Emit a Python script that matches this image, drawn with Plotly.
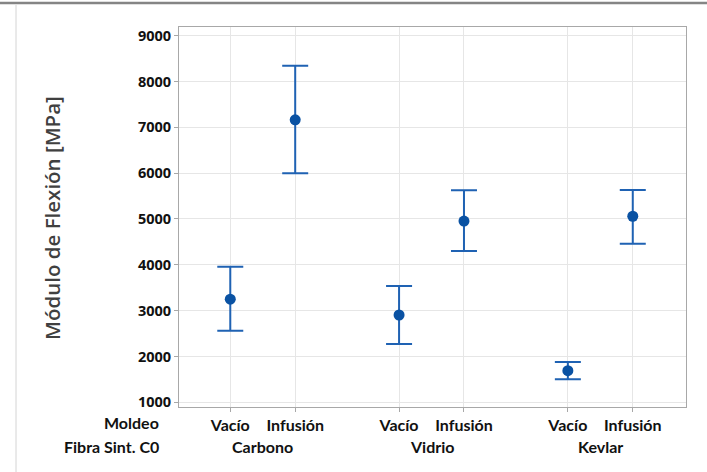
import plotly.graph_objects as go

# Flexural modulus by fibre type and moulding process
fibras = ["Carbono", "Vidrio", "Kevlar"]
moldeos = ["Vacío", "Infusión"]
media = [3250, 7165, 2905, 4955, 1690, 5060]
limite_sup = [3960, 8345, 3540, 5630, 1880, 5633]
limite_inf = [2563, 5997, 2273, 4302, 1503, 4462]
y_ticks = [1000, 2000, 3000, 4000, 5000, 6000, 7000, 8000, 9000]

GROUP_STEP = 2.6
xpos = [g * GROUP_STEP + j + 1 for g in range(len(fibras)) for j in range(len(moldeos))]
xlabels = [m for _ in fibras for m in moldeos]
err_up = [u - m for u, m in zip(limite_sup, media)]
err_dn = [m - d for m, d in zip(media, limite_inf)]

fig = go.Figure()
fig.add_trace(go.Scatter(
    x=xpos, y=media, mode="markers",
    marker=dict(color="#0a52a3", size=11),
    error_y=dict(type="data", symmetric=False, array=err_up, arrayminus=err_dn,
                 color="#1f62b3", thickness=2, width=13),
    showlegend=False,
))

W, H = 707, 472
L, R, T, B = 179, 21, 27, 65
pw, ph = W - L - R, H - T - B

def px_x(p):
    return (p - L) / pw

def px_y(p):
    return (H - B - p) / ph

label_font = dict(family="Lato", size=16, color="#111111", weight="bold")

annotations = []
# group names centred under each pair
for g, f in enumerate(fibras):
    cx = g * GROUP_STEP + 1 + (len(moldeos) - 1) / 2
    annotations.append(dict(x=cx, y=px_y(446), xref="x", yref="paper", text=f,
                            showarrow=False, font=label_font, xanchor="center", yanchor="middle"))
# row headers
annotations.append(dict(x=px_x(161), y=px_y(423), xref="paper", yref="paper", text="Moldeo",
                        showarrow=False, font=label_font, xanchor="right", yanchor="middle"))
annotations.append(dict(x=px_x(161), y=px_y(446), xref="paper", yref="paper", text="Fibra Sint. C0",
                        showarrow=False, font=label_font, xanchor="right", yanchor="middle"))
# y-axis title
annotations.append(dict(x=px_x(52), y=px_y(218), xref="paper", yref="paper",
                        text="Módulo de Flexión [MPa]", textangle=-90, showarrow=False,
                        font=dict(family="Open Sans", size=20.5, color="#404040", weight=600),
                        xanchor="center", yanchor="middle"))

shapes = [
    # frame line across the top of the page
    dict(type="line", xref="paper", yref="paper", x0=px_x(0), x1=px_x(W), y0=px_y(3), y1=px_y(3),
         line=dict(color="#858585", width=2.5)),
    # thin rule down the left side
    dict(type="line", xref="paper", yref="paper", x0=px_x(16), x1=px_x(16), y0=px_y(5), y1=px_y(H),
         line=dict(color="#d4d4d4", width=1)),
]

fig.update_layout(
    width=W, height=H,
    margin=dict(l=L, r=R, t=T, b=B),
    paper_bgcolor="white", plot_bgcolor="white",
    annotations=annotations, shapes=shapes,
    xaxis=dict(range=[0.21, 8.02], tickvals=xpos, ticktext=xlabels,
               showgrid=True, gridcolor="#e6e6e6", gridwidth=1,
               showline=True, linecolor="#a8a8a8", linewidth=1, mirror=True,
               ticks="outside", ticklen=4, tickcolor="#a8a8a8",
               tickfont=label_font, zeroline=False),
    yaxis=dict(range=[897, 9190], tickvals=y_ticks,
               showgrid=True, gridcolor="#e6e6e6", gridwidth=1,
               showline=True, linecolor="#a8a8a8", linewidth=1, mirror=True,
               ticks="outside", ticklen=4, tickcolor="#a8a8a8",
               tickfont=dict(family="Open Sans", size=14.5, color="#111111", weight="bold"),
               zeroline=False),
)

fig.write_html("out.html")
